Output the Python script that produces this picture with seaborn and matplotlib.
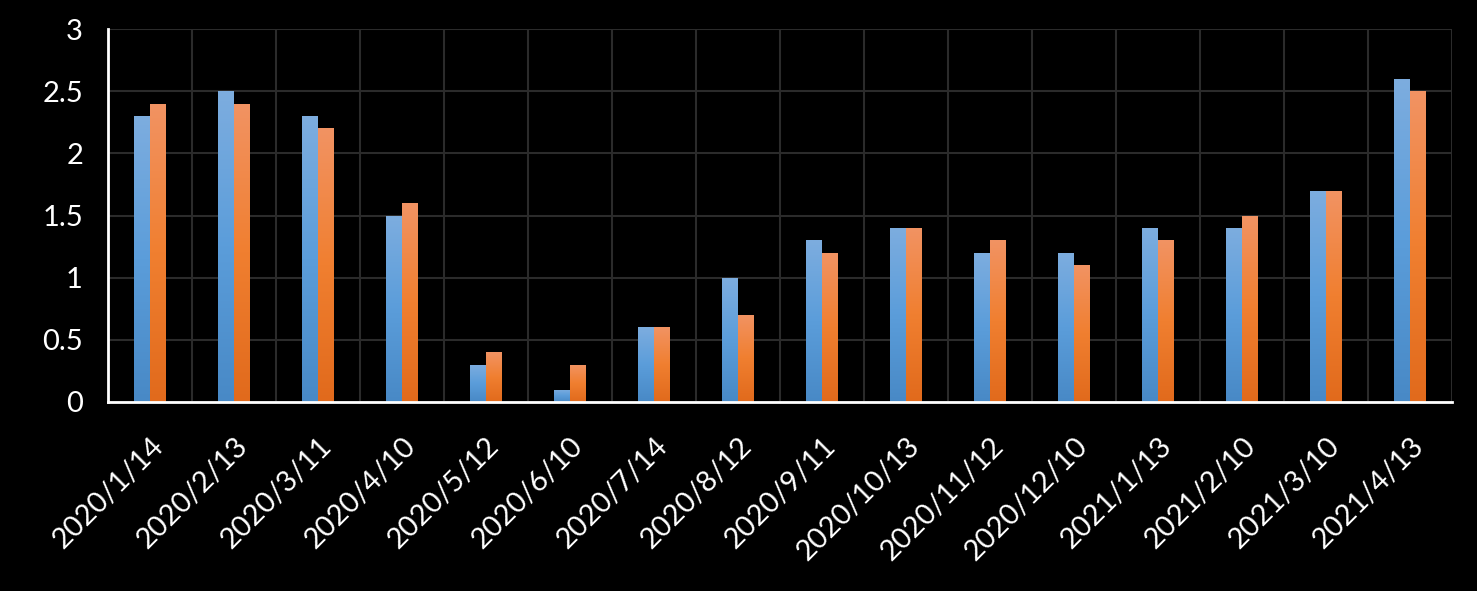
import numpy as np
import pandas as pd
import matplotlib.pyplot as plt
import seaborn as sns
from matplotlib.colors import LinearSegmentedColormap

dates = ['2020/1/14', '2020/2/13', '2020/3/11', '2020/4/10', '2020/5/12', '2020/6/10',
         '2020/7/14', '2020/8/12', '2020/9/11', '2020/10/13', '2020/11/12', '2020/12/10',
         '2021/1/13', '2021/2/10', '2021/3/10', '2021/4/13']
series_a = [2.3, 2.5, 2.3, 1.5, 0.3, 0.1, 0.6, 1.0, 1.3, 1.4, 1.2, 1.2, 1.4, 1.4, 1.7, 2.6]
series_b = [2.4, 2.4, 2.2, 1.6, 0.4, 0.3, 0.6, 0.7, 1.2, 1.4, 1.3, 1.1, 1.3, 1.5, 1.7, 2.5]
y_ticks = [0, 0.5, 1, 1.5, 2, 2.5, 3]

df = pd.DataFrame({
    'date': dates * 2,
    'value': series_a + series_b,
    'series': ['A'] * len(dates) + ['B'] * len(dates),
})

sns.set_theme(style='dark')
plt.rcParams['font.family'] = ['Lato', 'DejaVu Sans']

fig = plt.figure(figsize=(14.77, 5.91), dpi=100, facecolor='black')
ax = fig.add_axes([108 / 1477, 1 - 402 / 591, (1452 - 108) / 1477, (402 - 29) / 591])
ax.set_facecolor('black')

sns.barplot(data=df, x='date', y='value', hue='series', order=dates,
            palette=['#5B9BD5', '#ED7D31'], width=0.38, gap=0, legend=False,
            saturation=1, linewidth=0, ax=ax)

# per-bar vertical gradient, light at the top
grads = {
    'A': LinearSegmentedColormap.from_list('ga', ['#4889C6', '#5B9DDA', '#7DADDF']),
    'B': LinearSegmentedColormap.from_list('gb', ['#E16A1C', '#F07F30', '#F29363']),
}
n = len(dates)
grad = np.linspace(0, 1, 256).reshape(-1, 1)
for i, p in enumerate(list(ax.patches)[:2 * n]):
    key = 'A' if i < n else 'B'
    x0, y0 = p.get_x(), p.get_y()
    w, h = p.get_width(), p.get_height()
    if h <= 0:
        continue
    im = ax.imshow(grad, cmap=grads[key], origin='lower', aspect='auto',
                   extent=[x0, x0 + w, y0, y0 + h], zorder=2, interpolation='bilinear')
    im.set_clip_path(p)

ax.set_xlim(-0.5, n - 0.5)
ax.set_ylim(0, 3)
ax.set_yticks(y_ticks)
ax.set_yticklabels([f'{t:g}' for t in y_ticks])
ax.set_xticks(range(n))
ax.set_xticklabels(dates, rotation=45, ha='right', rotation_mode='anchor')
ax.set_xticks(np.arange(-0.5, n, 1), minor=True)

ax.tick_params(axis='x', which='major', length=0, labelsize=21, labelcolor='white', pad=22)
ax.tick_params(axis='x', which='minor', length=12, width=2, color='white', direction='out')
ax.tick_params(axis='y', length=0, labelsize=21, labelcolor='white', pad=18)
ax.set_xlabel('')
ax.set_ylabel('')

ax.grid(False)
ax.grid(axis='y', which='major', color='#2b2b2b', linewidth=1.5)
ax.grid(axis='x', which='minor', color='#2b2b2b', linewidth=1.5)
ax.set_axisbelow(True)

for s in ['top', 'right']:
    ax.spines[s].set_visible(False)
for s in ['left', 'bottom']:
    ax.spines[s].set_visible(True)
    ax.spines[s].set_color('white')
    ax.spines[s].set_linewidth(2)
    ax.spines[s].set_zorder(5)

fig.savefig('out.png', dpi=100, facecolor='black')
